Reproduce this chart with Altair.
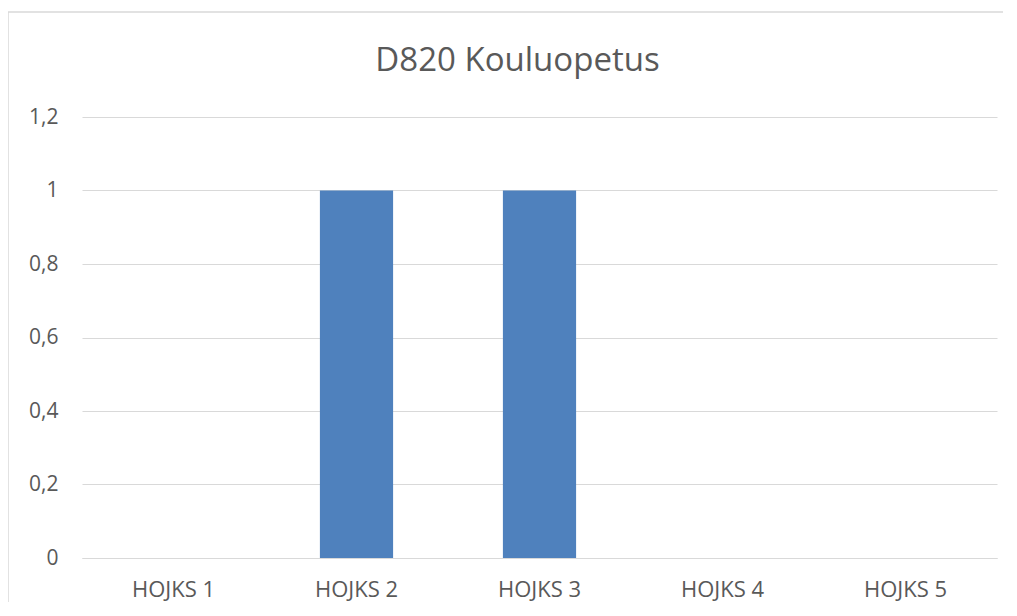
import altair as alt
import pandas as pd

categories = ["HOJKS 1", "HOJKS 2", "HOJKS 3", "HOJKS 4", "HOJKS 5"]
values = [0, 1, 1, 0, 0]
y_ticks = [0, 0.2, 0.4, 0.6, 0.8, 1.0, 1.2]

df = pd.DataFrame({"cat": categories, "val": values})

FONT = "Open Sans"
GREY = "#595959"

bars = alt.Chart(df).mark_bar(color="#4F81BD").encode(
    x=alt.X(
        "cat:N",
        sort=categories,
        title=None,
        scale=alt.Scale(paddingInner=0.6, paddingOuter=0.3),
        axis=alt.Axis(
            labelAngle=0,
            labelFont=FONT,
            labelFontSize=22,
            labelColor=GREY,
            labelPadding=21,
            ticks=False,
            grid=False,
            domainColor="#d9d9d9",
            domainWidth=1,
        ),
    ),
    y=alt.Y(
        "val:Q",
        title=None,
        scale=alt.Scale(domain=[0, 1.2], nice=False),
        axis=alt.Axis(
            values=y_ticks,
            labelExpr="replace(format(datum.value, '.1~f'), '.', ',')",
            labelFont=FONT,
            labelFontSize=21,
            labelColor=GREY,
            labelPadding=24,
            ticks=False,
            domain=False,
            gridColor="#d9d9d9",
            gridWidth=1,
        ),
    ),
)

frame_base = alt.Chart(pd.DataFrame({"a": [0]}))
frame_left = frame_base.mark_rule(color="#d9d9d9", strokeWidth=1.5).encode(
    x=alt.value(-74), y=alt.value(-105), y2=alt.value(485)
)
frame_top = frame_base.mark_rule(color="#d9d9d9", strokeWidth=1.5).encode(
    x=alt.value(-74), x2=alt.value(921), y=alt.value(-105)
)

chart = (
    alt.layer(frame_left, frame_top, bars)
    .properties(
        width=915,
        height=441,
        background="white",
        padding={"left": 74, "top": 109, "right": 6, "bottom": 44},
        autosize=alt.AutoSizeParams(type="none"),
        title=alt.TitleParams(
            "D820 Kouluopetus",
            font=FONT,
            fontSize=33,
            fontWeight="normal",
            color=GREY,
            anchor="middle",
            dx=-22,
            dy=71,
        ),
    )
    .configure_view(stroke=None, strokeWidth=0)
)

chart.save("out.html", embed_options={"renderer": "svg", "actions": False})
